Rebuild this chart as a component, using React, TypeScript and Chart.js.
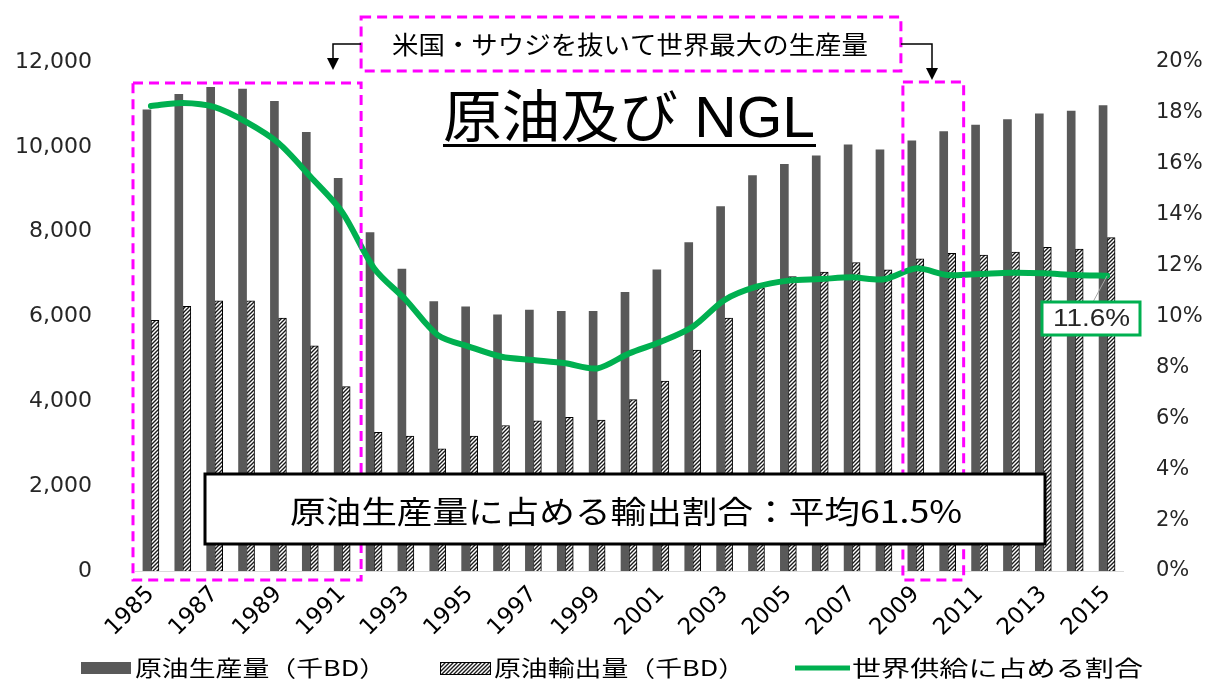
import React, { useEffect, useRef } from 'react';
import { Chart, registerables } from 'chart.js';

Chart.register(...registerables);

// ---------- data ----------
const years = [
  '1985', '1986', '1987', '1988', '1989', '1990', '1991', '1992', '1993', '1994',
  '1995', '1996', '1997', '1998', '1999', '2000', '2001', '2002', '2003', '2004',
  '2005', '2006', '2007', '2008', '2009', '2010', '2011', '2012', '2013', '2014', '2015',
];
const productionKbd = [
  10870, 11240, 11400, 11360, 11070, 10340, 9260, 7980, 7120, 6350,
  6230, 6040, 6150, 6120, 6120, 6570, 7100, 7740, 8590, 9320,
  9590, 9790, 10050, 9930, 10140, 10360, 10510, 10640, 10780, 10840, 10970,
];
const exportKbd = [
  5910, 6240, 6370, 6370, 5960, 5310, 4350, 3270, 3180, 2880,
  3180, 3430, 3540, 3620, 3560, 4040, 4480, 5210, 5960, 6680,
  6940, 7050, 7270, 7100, 7360, 7490, 7450, 7520, 7630, 7590, 7860,
];
const worldSharePct = [
  18.27, 18.39, 18.23, 17.64, 16.82, 15.5, 14.1, 11.9, 10.65, 9.27,
  8.81, 8.42, 8.29, 8.16, 7.96, 8.55, 9.01, 9.6, 10.65, 11.17,
  11.41, 11.47, 11.54, 11.46, 11.89, 11.63, 11.67, 11.72, 11.7, 11.63, 11.6,
];
const leftAxisTicks = [0, 2000, 4000, 6000, 8000, 10000, 12000];
const rightAxisTicks = [0, 2, 4, 6, 8, 10, 12, 14, 16, 18, 20];
const labelEvery = 2;
const seriesLabels = ['原油生産量（千BD）', '原油輸出量（千BD）', '世界供給に占める割合'];
const titleText = '原油及び NGL';
const calloutText = '米国・サウジを抜いて世界最大の生産量';
const averageText = '原油生産量に占める輸出割合：平均61.5%';
const firstBoxRange = [0, 6];
const secondBoxRange = [24, 25];

// ---------- styles ----------
const W = 1211;
const H = 682;
const CJK = "'Noto Sans CJK JP', sans-serif";
const LAT = "'Liberation Sans', 'Noto Sans CJK JP', sans-serif";
const TICKF = "'DejaVu Sans', 'Liberation Sans', sans-serif";
const DARK = '#595959';
const GREEN = '#00B050';
const MAGENTA = '#FF00FF';

function makeHatch(): CanvasPattern | string {
  const c = document.createElement('canvas');
  c.width = 4;
  c.height = 4;
  const g = c.getContext('2d');
  if (!g) return '#ccc';
  g.fillStyle = '#fff';
  g.fillRect(0, 0, 4, 4);
  g.strokeStyle = '#1a1a1a';
  g.lineWidth = 1.4;
  g.beginPath();
  g.moveTo(-1, 5); g.lineTo(5, -1);
  g.moveTo(-1, 1); g.lineTo(1, -1);
  g.moveTo(3, 5); g.lineTo(5, 3);
  g.stroke();
  return g.createPattern(c, 'repeat') || '#ccc';
}

function fitText(
  ctx: CanvasRenderingContext2D, text: string, x: number, y: number, width: number,
  font: string, color: string, baseline: CanvasTextBaseline = 'middle',
) {
  ctx.save();
  ctx.font = font;
  ctx.fillStyle = color;
  ctx.textBaseline = baseline;
  ctx.textAlign = 'left';
  const m = ctx.measureText(text).width || 1;
  ctx.translate(x, y);
  ctx.scale(width / m, 1);
  ctx.fillText(text, 0, 0);
  ctx.restore();
}

function arrowDown(ctx: CanvasRenderingContext2D, x0: number, y0: number, x1: number, yTip: number) {
  ctx.save();
  ctx.setLineDash([]);
  ctx.strokeStyle = '#000';
  ctx.fillStyle = '#000';
  ctx.lineWidth = 1.5;
  ctx.beginPath();
  ctx.moveTo(x0, y0);
  ctx.lineTo(x1, y0);
  ctx.lineTo(x1, yTip - 10);
  ctx.stroke();
  ctx.beginPath();
  ctx.moveTo(x1 - 6, yTip - 12);
  ctx.lineTo(x1 + 6, yTip - 12);
  ctx.lineTo(x1, yTip);
  ctx.closePath();
  ctx.fill();
  ctx.restore();
}

const annotationPlugin = {
  id: 'annotations',
  afterDraw(chart: any) {
    const ctx: CanvasRenderingContext2D = chart.ctx;
    const x = chart.scales.x;
    const area = chart.chartArea;
    const half = (x.getPixelForValue(1) - x.getPixelForValue(0)) / 2;

    // dashed magenta boxes
    ctx.save();
    ctx.strokeStyle = MAGENTA;
    ctx.lineWidth = 3;
    ctx.setLineDash([10, 6]);
    const b1l = area.left - 2;
    const b1r = x.getPixelForValue(firstBoxRange[1]) + half + 3;
    ctx.strokeRect(b1l, 83, b1r - b1l, 580 - 83);
    const b3l = x.getPixelForValue(secondBoxRange[0]) - half + 3;
    const b3r = x.getPixelForValue(secondBoxRange[1]) + half;
    ctx.strokeRect(b3l, 82, b3r - b3l, 580 - 82);
    ctx.strokeRect(b1r, 17, b3l - 2 - b1r, 71 - 17);
    ctx.restore();

    // arrows
    arrowDown(ctx, b1r, 44, 333, 70);
    arrowDown(ctx, b3l - 2, 44, 932, 80);

    // callout text
    fitText(ctx, calloutText, 392, 44, 476, `25px ${CJK}`, '#000');

    // title
    fitText(ctx, titleText, 443, 137, 372, `57px ${LAT}`, '#000', 'alphabetic');
    ctx.save();
    ctx.fillStyle = '#000';
    ctx.fillRect(443, 144, 373, 3);
    ctx.restore();

    // average box
    ctx.save();
    ctx.fillStyle = '#fff';
    ctx.fillRect(205, 474, 840, 70);
    ctx.strokeStyle = '#000';
    ctx.lineWidth = 3;
    ctx.strokeRect(205, 474, 840, 70);
    ctx.restore();
    fitText(ctx, averageText, 290, 511, 672, `31px ${CJK}`, '#000');

    // last value label
    const lineMeta = chart.getDatasetMeta(2);
    const last = lineMeta.data[lineMeta.data.length - 1];
    ctx.save();
    ctx.strokeStyle = '#a6a6a6';
    ctx.lineWidth = 1;
    ctx.beginPath();
    ctx.moveTo(1093, 302);
    ctx.lineTo(last.x, last.y);
    ctx.stroke();
    ctx.fillStyle = '#fff';
    ctx.fillRect(1042, 302, 98, 33);
    ctx.strokeStyle = GREEN;
    ctx.lineWidth = 3;
    ctx.strokeRect(1042, 302, 98, 33);
    ctx.restore();
    const lastVal = worldSharePct[worldSharePct.length - 1].toFixed(1) + '%';
    fitText(ctx, lastVal, 1053, 319, 77, `24px ${LAT}`, '#262626');

    // legend
    ctx.save();
    ctx.fillStyle = DARK;
    ctx.fillRect(81, 662, 50, 12);
    ctx.fillStyle = chart.data.datasets[1].backgroundColor;
    ctx.fillRect(440, 662, 50, 12);
    ctx.strokeStyle = '#000';
    ctx.lineWidth = 1;
    ctx.strokeRect(440.5, 662.5, 50, 12);
    ctx.strokeStyle = GREEN;
    ctx.lineWidth = 5;
    ctx.beginPath();
    ctx.moveTo(795, 668);
    ctx.lineTo(850, 668);
    ctx.stroke();
    ctx.restore();
    fitText(ctx, seriesLabels[0], 135, 668, 251, `22px ${CJK}`, '#000');
    fitText(ctx, seriesLabels[1], 494, 668, 251, `22px ${CJK}`, '#000');
    fitText(ctx, seriesLabels[2], 852, 668, 291, `22px ${CJK}`, '#000');
  },
};

export default function App() {
  const ref = useRef<HTMLCanvasElement | null>(null);

  useEffect(() => {
    if (!ref.current) return;
    const hatch = makeHatch();
    const chart = new Chart(ref.current, {
      type: 'bar',
      data: {
        labels: years,
        datasets: [
          {
            type: 'bar',
            label: seriesLabels[0],
            data: productionKbd,
            backgroundColor: DARK,
            borderWidth: 0,
            barThickness: 8,
            yAxisID: 'y',
          },
          {
            type: 'bar',
            label: seriesLabels[1],
            data: exportKbd,
            backgroundColor: hatch as any,
            borderColor: '#000',
            borderWidth: 1,
            barThickness: 8,
            yAxisID: 'y',
          },
          {
            type: 'line',
            label: seriesLabels[2],
            data: worldSharePct,
            borderColor: GREEN,
            backgroundColor: GREEN,
            borderWidth: 6,
            pointRadius: 0,
            tension: 0.3,
            borderCapStyle: 'round',
            borderJoinStyle: 'round',
            yAxisID: 'y1',
            order: -1,
          } as any,
        ],
      },
      options: {
        responsive: false,
        animation: false,
        devicePixelRatio: 1,
        layout: { padding: { top: 62, left: 0, right: 0, bottom: 0 } },
        plugins: {
          legend: { display: false },
          tooltip: { enabled: false },
          title: { display: false },
        },
        scales: {
          x: {
            type: 'category',
            offset: true,
            grid: { display: false },
            border: { display: true, color: '#d9d9d9', width: 1 },
            ticks: {
              autoSkip: false,
              minRotation: 45,
              maxRotation: 45,
              padding: 2,
              color: '#000',
              font: { family: TICKF, size: 23 },
              callback: (_v: any, i: number) => (i % labelEvery === 0 ? years[i] : ''),
            },
            afterFit: (s: any) => { s.height = H - 571; },
          },
          y: {
            position: 'left',
            min: 0,
            max: 12000,
            grid: { display: false },
            border: { display: false },
            afterBuildTicks: (s: any) => { s.ticks = leftAxisTicks.map((v) => ({ value: v })); },
            ticks: {
              padding: 35,
              color: '#262626',
              font: { family: TICKF, size: 22 },
              callback: (v: any) => Number(v).toLocaleString('en-US'),
            },
            afterFit: (s: any) => { s.width = 135; },
          },
          y1: {
            position: 'right',
            min: 0,
            max: 20,
            grid: { display: false },
            border: { display: false },
            afterBuildTicks: (s: any) => { s.ticks = rightAxisTicks.map((v) => ({ value: v })); },
            ticks: {
              padding: 25,
              color: '#262626',
              font: { family: TICKF, size: 21 },
              callback: (v: any) => `${v}%`,
            },
            afterFit: (s: any) => { s.width = W - 1123; },
          },
        },
      },
      plugins: [annotationPlugin],
    });
    return () => chart.destroy();
  }, []);

  return (
    <div style={{ position: 'absolute', left: 0, top: 0, width: W, height: H, background: '#fff' }}>
      <canvas ref={ref} width={W} height={H} style={{ display: 'block' }} />
    </div>
  );
}
